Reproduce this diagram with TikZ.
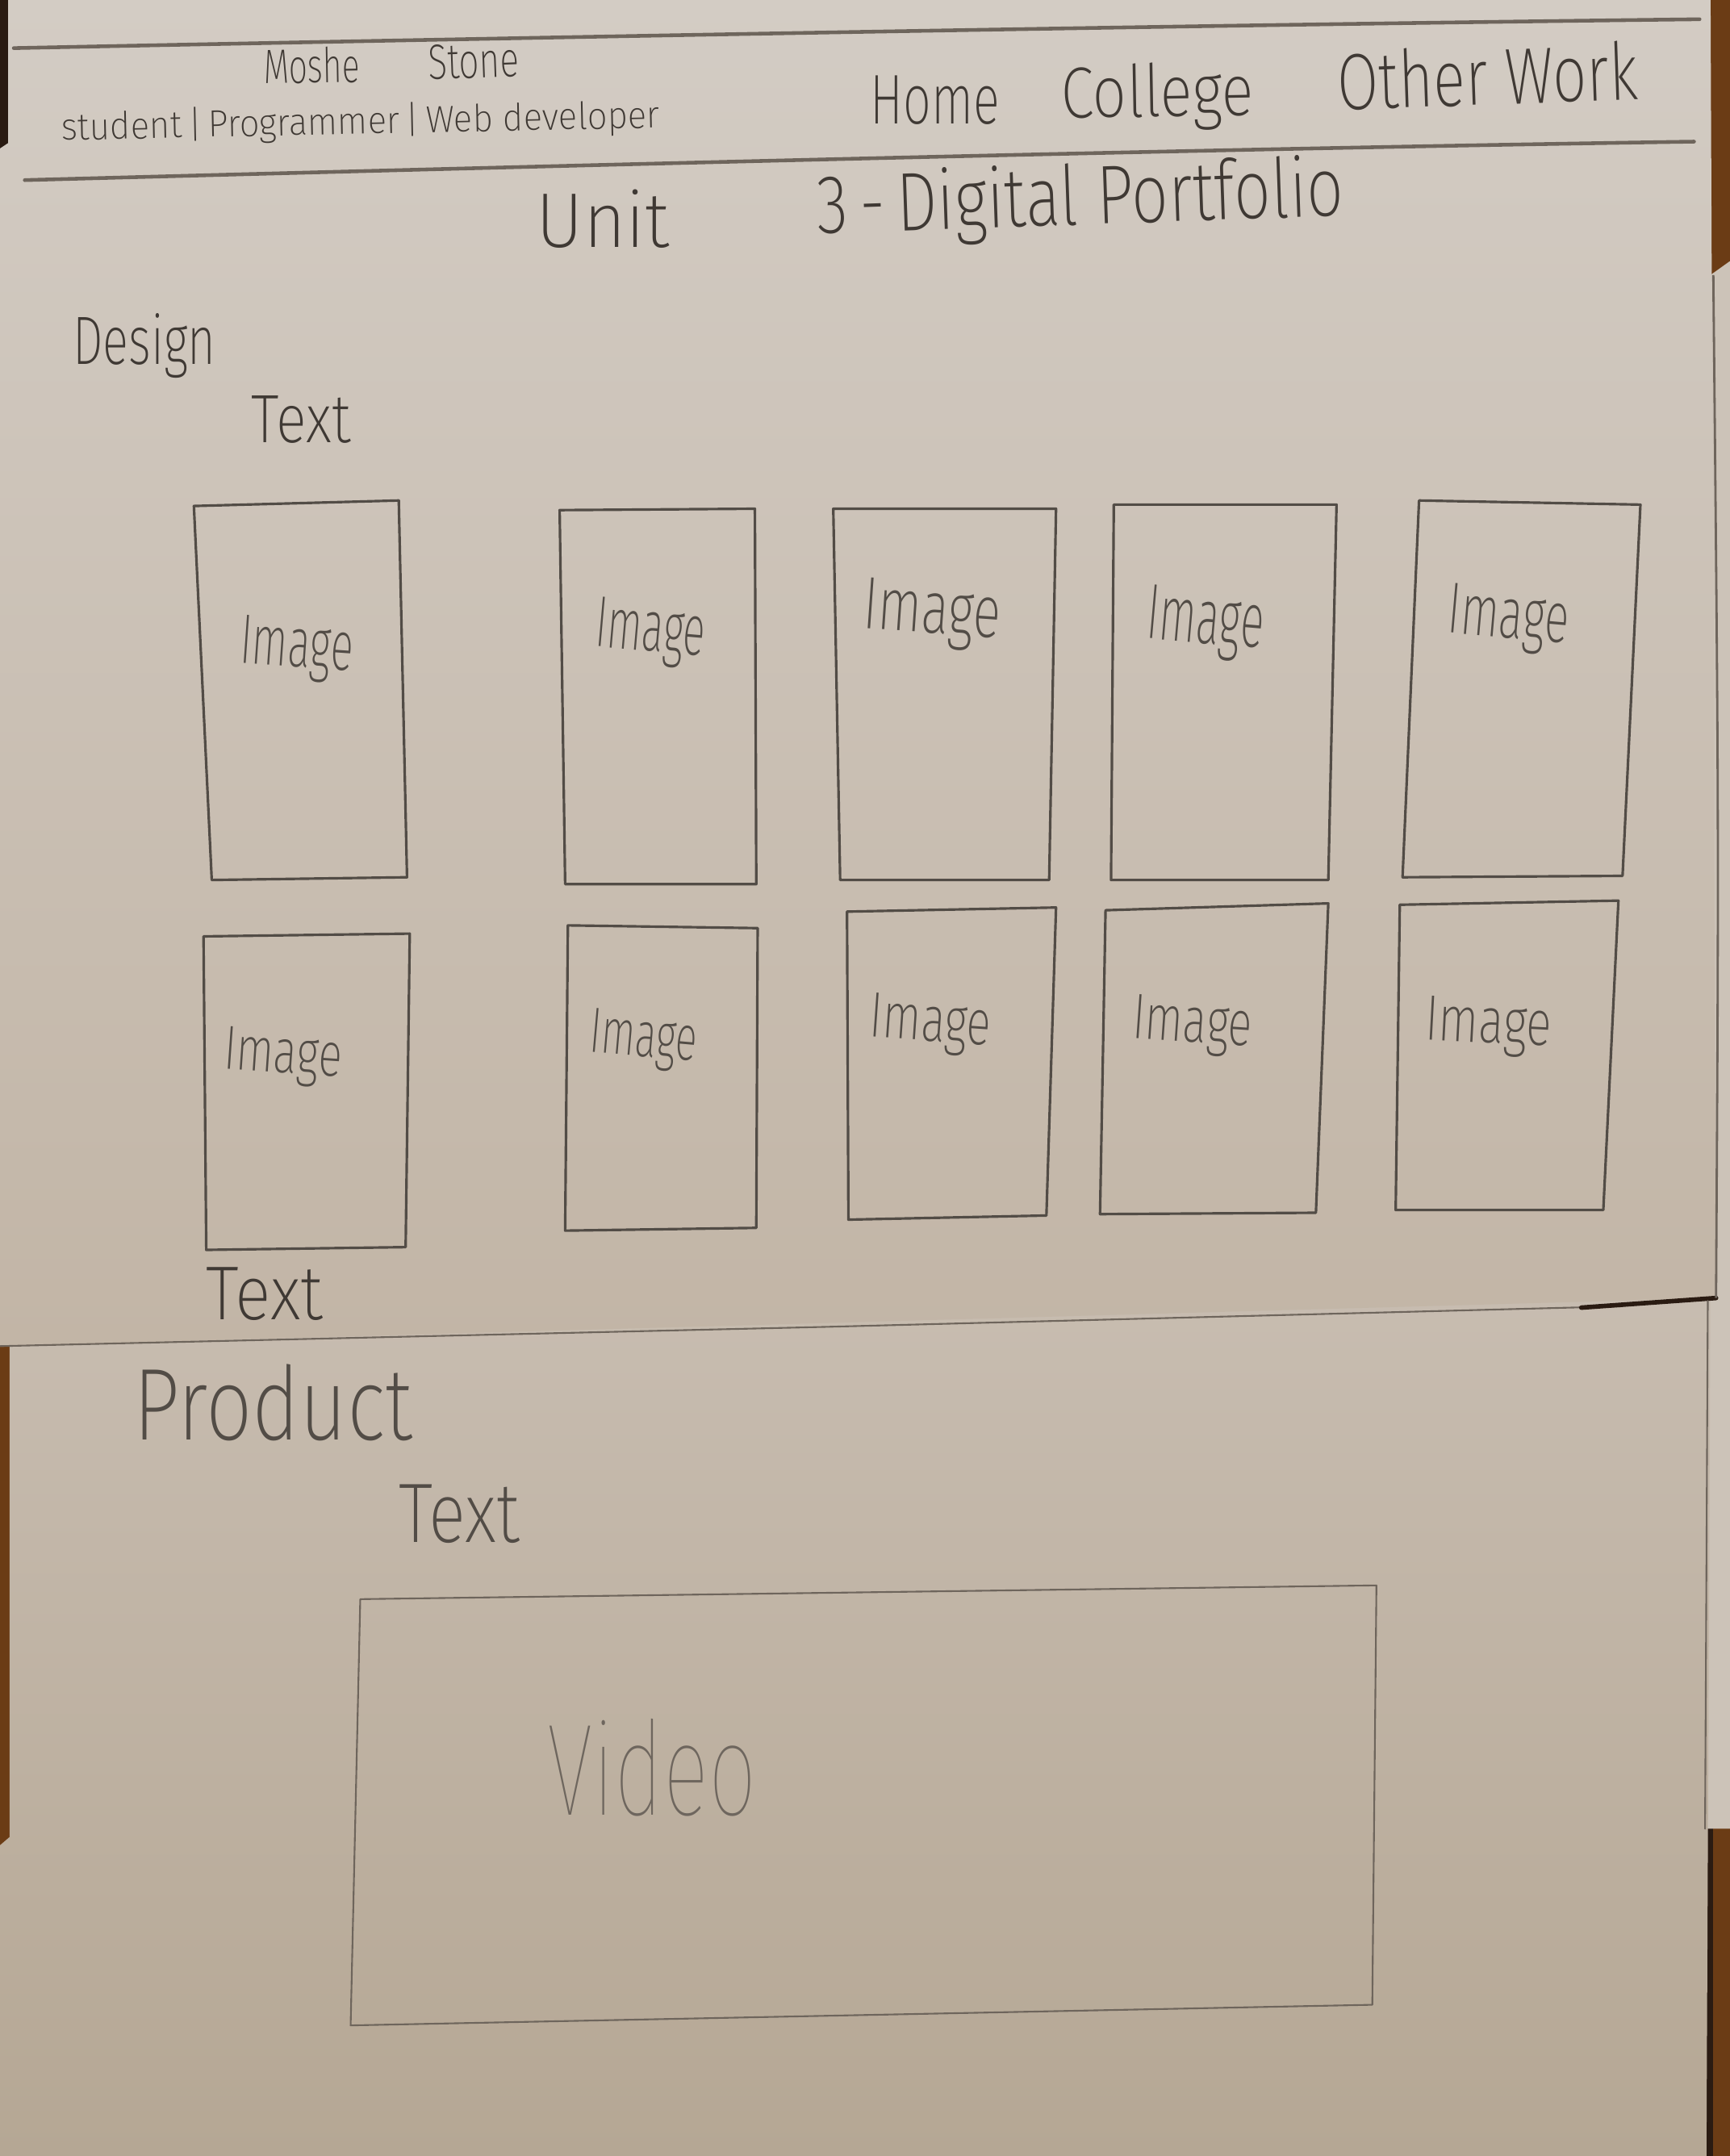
\documentclass[tikz,border=0pt]{standalone}
\usepackage{fontspec}
\usepackage{graphicx}
\newfontfamily\hand{Fira Sans ExtraLight}
\newfontfamily\handthin{Fira Sans Thin}
% one drawing unit of the sketch
\newlength\pxu
\setlength\pxu{0.017043cm}
% handwritten word squeezed into a given width and ascender height
\newcommand\hw[3]{\resizebox{#1\pxu}{#2\pxu}{\hand #3}}
\newcommand\hwthin[3]{\resizebox{#1\pxu}{#2\pxu}{\handthin #3}}

\definecolor{wood}{HTML}{6B3C15}
\definecolor{wooddark}{HTML}{2A1B12}
\definecolor{papertop}{HTML}{D3CCC4}
\definecolor{papermid}{HTML}{C2B5A6}
\definecolor{paperlow}{HTML}{C8BDB1}
\definecolor{paperbot}{HTML}{B5A794}
\definecolor{paperside}{HTML}{CCC3B8}
\definecolor{ink}{HTML}{3F3934}
\definecolor{inksoft}{HTML}{524C46}
\definecolor{inkfaint}{HTML}{6E665E}
\definecolor{edge}{HTML}{6E655C}

\tikzset{
  pencil/.style={draw=inksoft, line width=0.9pt, line join=round, line cap=round},
  pencilthin/.style={draw=edge, line width=0.6pt, line join=round, line cap=round},
  ruleline/.style={draw=edge, line width=1.3pt, line cap=round},
  lbl/.style={inner sep=0pt, outer sep=0pt, anchor=base west, text=ink},
  imglbl/.style={lbl, text=inksoft},
}

\begin{document}
\begin{tikzpicture}[x=0.017043cm, y=-0.017043cm]
\useasboundingbox (0,0) rectangle (1258,1568);

% table top behind the sheets
\fill[wood] (0,0) rectangle (1258,1568);
\fill[wooddark] (0,0) rectangle (7,108);
\fill[wooddark] (1238,1330) rectangle (1246,1568);

% sheet lying under the others, showing on the right
\fill[paperside] (1244,200) -- (1258,190) -- (1258,1330) -- (1241,1330) -- cycle;

% lower sheet
\shade[top color=paperlow, bottom color=paperbot]
  (7,950) -- (1244,925) -- (1241,1568) -- (0,1568) -- (0,1342) -- (7,1336) -- cycle;

% upper sheet
\shade[top color=papertop, bottom color=papermid]
  (6,0) -- (1244,0) -- (1248,944) -- (0,979) -- (0,108) -- (6,104) -- cycle;

% sheet edges
\draw[pencilthin] (0,979) -- (600,965) -- (1180,950);
\draw[draw=wooddark, line width=1.6pt, line cap=round] (1150,951) -- (1248,944);
\draw[draw=edge, line width=0.8pt] (1246,200) .. controls (1250,600) .. (1248,944);
\draw[pencilthin] (1242,946) -- (1240,1330);

% header rules
\coordinate (r1a) at (10,35);  \coordinate (r1b) at (1236,14);
\coordinate (r2a) at (18,131); \coordinate (r2b) at (1232,103);
\draw[ruleline] (r1a) .. controls (500,25) and (900,18) .. (r1b);
\draw[ruleline] (r2a) .. controls (500,118) and (900,108) .. (r2b);

% header text
\node[lbl, rotate=1] (moshe) at (192,61) {\hw{70}{26}{Moshe}};
\node[lbl, rotate=2] (stone) at (312,58) {\hw{66}{25}{Stone}};
\node[lbl, rotate=1.2] (roles) at (45,102)
  {\hw{435}{22}{student\,|\,Programmer\,|\,Web developer}};
\node[lbl] (home) at (633,90) {\hw{94}{35}{Home}};
\node[lbl, rotate=1] (college) at (772,86) {\hw{140}{39}{College}};
\node[lbl, rotate=2] (other) at (973,80) {\hw{219}{43}{Other Work}};

% page title
\node[lbl] (unit) at (390,180) {\hw{97}{42}{Unit}};
\node[lbl, rotate=2] (title) at (595,170) {\hw{383}{45}{3\,-\,Digital Portfolio}};

% design section
\node[lbl] (design) at (53,265) {\hw{104}{37}{Design}};
\node[lbl] (text1) at (183,322) {\hw{72}{34}{Text}};

% first row of image boxes
\draw[pencil] (141,368) -- (290,364) -- (296,638) -- (154,640) -- cycle;
\draw[pencil] (407,371) -- (549,370) -- (550,643) -- (411,643) -- cycle;
\draw[pencil] (606,370) -- (768,370) -- (763,640) -- (611,640) -- cycle;
\draw[pencil] (810,367) -- (972,367) -- (966,640) -- (808,640) -- cycle;
\draw[pencil] (1032,364) -- (1193,367) -- (1180,637) -- (1020,638) -- cycle;

\node[imglbl, rotate=-4] (img1) at (174,482) {\hw{82}{35}{Image}};
\node[imglbl, rotate=-5] (img2) at (432,470) {\hw{80}{36}{Image}};
\node[imglbl, rotate=-4] (img3) at (627,457) {\hw{100}{37}{Image}};
\node[imglbl, rotate=-5] (img4) at (833,464) {\hw{85}{39}{Image}};
\node[imglbl, rotate=-5] (img5) at (1052,460) {\hw{88}{36}{Image}};

% second row of image boxes
\draw[pencil] (148,681) -- (298,679) -- (295,907) -- (150,909) -- cycle;
\draw[pencil] (413,673) -- (551,675) -- (550,893) -- (411,895) -- cycle;
\draw[pencil] (616,663) -- (768,660) -- (761,884) -- (617,887) -- cycle;
\draw[pencil] (804,662) -- (966,657) -- (957,882) -- (800,883) -- cycle;
\draw[pencil] (1018,658) -- (1177,655) -- (1166,880) -- (1015,880) -- cycle;

\node[imglbl, rotate=-4] (img6) at (162,777) {\hw{86}{31}{Image}};
\node[imglbl, rotate=-5] (img7) at (428,765) {\hw{78}{32}{Image}};
\node[imglbl, rotate=-4] (img8) at (632,754) {\hw{88}{32}{Image}};
\node[imglbl, rotate=-4] (img9) at (823,755) {\hw{87}{32}{Image}};
\node[imglbl, rotate=-3] (img10) at (1036,756) {\hw{92}{32}{Image}};

\node[lbl] (text2) at (150,960) {\hw{85}{38}{Text}};

% product section
\node[lbl, text=inksoft] (product) at (97,1047) {\hw{203}{55}{Product}};
\node[lbl, text=inksoft] (text3) at (290,1122) {\hw{88}{42}{Text}};

% video frame
\draw[pencilthin] (262,1163) -- (1001,1153) -- (998,1458) -- (255,1473) -- cycle;
\node[lbl, text=inkfaint] (video) at (398,1320) {\hwthin{152}{70}{Video}};

\end{tikzpicture}
\end{document}
